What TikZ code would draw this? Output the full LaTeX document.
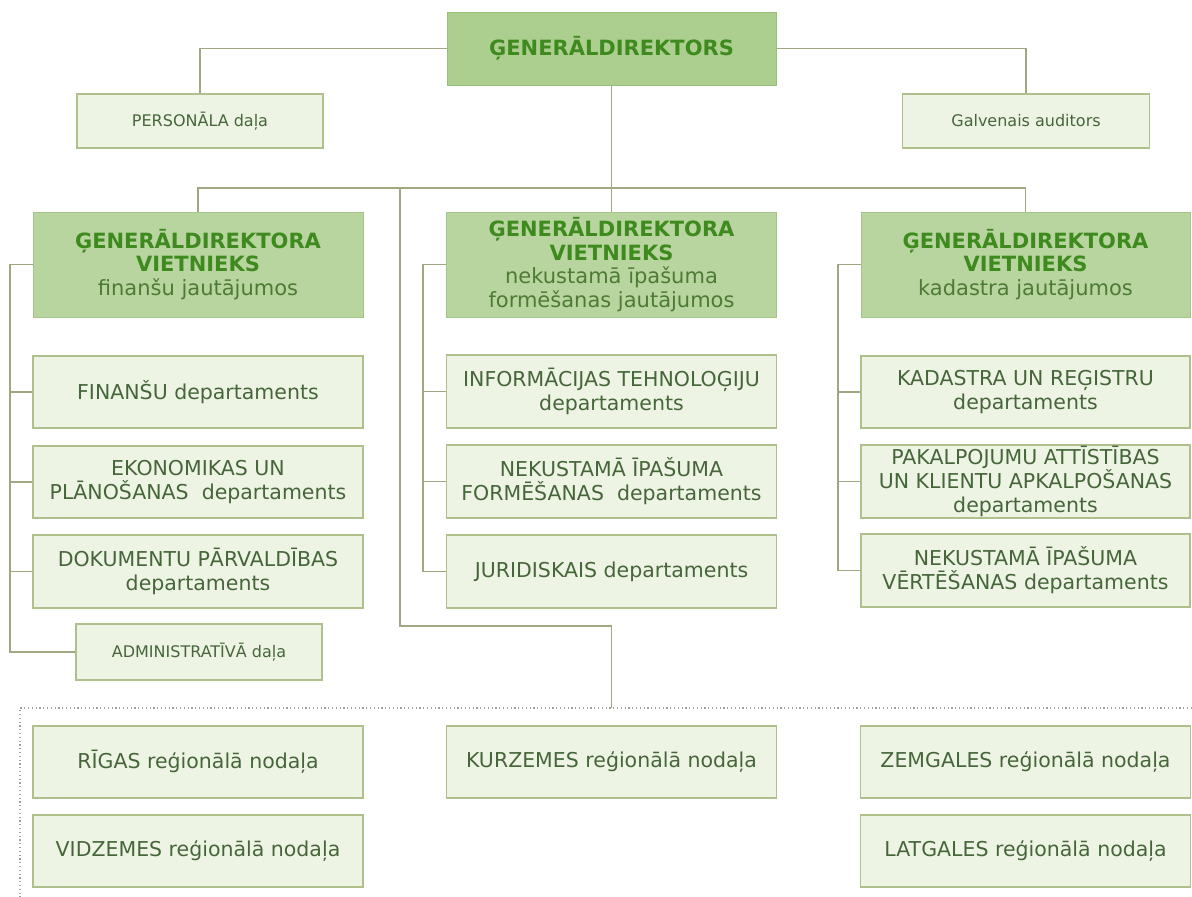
\documentclass[tikz,border=0pt]{standalone}
\usepackage{fontspec}
\setmainfont{DejaVu Sans}
\usepackage{tikz}
\usetikzlibrary{calc}
\definecolor{ChartLine}{HTML}{A0A783}
\definecolor{ChartFence}{HTML}{9AA39C}
\definecolor{HeadFill}{HTML}{ACCF8F}
\definecolor{HeadEdge}{HTML}{98BE78}
\definecolor{DeputyFill}{HTML}{B8D59F}
\definecolor{DeputyEdge}{HTML}{A4C58A}
\definecolor{UnitFill}{HTML}{EEF4E4}
\definecolor{UnitEdge}{HTML}{B0C08C}
\definecolor{TitleGreen}{HTML}{3E8A1E}
\definecolor{SubGreen}{HTML}{4E7A34}
\definecolor{UnitText}{HTML}{46663A}
\newcommand{\vptitle}{\textcolor{TitleGreen}{\textbf{ĢENERĀLDIREKTORA}}\\\textcolor{TitleGreen}{\textbf{VIETNIEKS}}}

\tikzset{
  link/.style={draw=ChartLine, line width=1.6pt},
  fence/.style={draw=ChartFence, line width=1.3pt, dash pattern=on 1.2pt off 2.6pt},
  boxsize/.style 2 args={minimum width=#1, minimum height=#2},
  headbox/.style={draw=HeadEdge, fill=HeadFill, line width=1pt, inner sep=0pt,
    text=TitleGreen, font=\bfseries\fontsize{21}{24}\selectfont},
  deputybox/.style={draw=DeputyEdge, fill=DeputyFill, line width=1pt, inner sep=0pt,
    align=center, text=SubGreen, font=\fontsize{21}{23.5}\selectfont},
  unitbox/.style={draw=UnitEdge, fill=UnitFill, line width=1.6pt, inner sep=0pt,
    align=center, text=UnitText, font=\fontsize{20.5}{24}\selectfont},
  smallunit/.style={unitbox, font=\fontsize{16}{19}\selectfont},
}

\begin{document}
\begin{tikzpicture}[x=1pt, y=-1pt]
  \useasboundingbox (0,0) rectangle (1192,897);

  \node[headbox, boxsize={329pt}{73pt}] (chief) at (611.5,48.5) {ĢENERĀLDIREKTORS};
  \node[smallunit, boxsize={246pt}{54pt}] (personnel) at (200,121) {PERSONĀLA daļa};
  \node[smallunit, boxsize={247pt}{54pt}] (auditor) at (1026,121) {Galvenais auditors};

  \node[deputybox, boxsize={330pt}{105pt}] (finance) at (198,264.5) {\vptitle\\finanšu jautājumos};
  \node[deputybox, boxsize={330pt}{105pt}] (property) at (611.5,264.5) {\vptitle\\nekustamā īpašuma\\formēšanas jautājumos};
  \node[deputybox, boxsize={329pt}{105pt}] (cadastre) at (1025.5,264.5) {\vptitle\\kadastra jautājumos};

  \node[unitbox, boxsize={330pt}{72pt}] (finunit) at (198,392) {FINANŠU departaments};
  \node[unitbox, boxsize={330pt}{72pt}] (ecounit) at (198,482) {EKONOMIKAS UN\\PLĀNOŠANAS\ \ departaments};
  \node[unitbox, boxsize={330pt}{73pt}] (docunit) at (198,571.5) {DOKUMENTU PĀRVALDĪBAS\\departaments};
  \node[smallunit, boxsize={246pt}{56pt}] (admunit) at (199,652) {ADMINISTRATĪVĀ daļa};

  \node[unitbox, boxsize={330pt}{73pt}] (itunit) at (611.5,391.5) {INFORMĀCIJAS TEHNOLOĢIJU\\departaments};
  \node[unitbox, boxsize={330pt}{73pt}] (formunit) at (611.5,481.5) {NEKUSTAMĀ ĪPAŠUMA\\FORMĒŠANAS\ \ departaments};
  \node[unitbox, boxsize={330pt}{73pt}] (lawunit) at (611.5,571.5) {JURIDISKAIS departaments};

  \node[unitbox, boxsize={329pt}{72pt}] (regunit) at (1025.5,392) {KADASTRA UN REĢISTRU\\departaments};
  \node[unitbox, boxsize={329pt}{73pt}] (svcunit) at (1025.5,481.5) {PAKALPOJUMU ATTĪSTĪBAS\\UN KLIENTU APKALPOŠANAS\\departaments};
  \node[unitbox, boxsize={329pt}{73pt}] (valunit) at (1025.5,570.5) {NEKUSTAMĀ ĪPAŠUMA\\VĒRTĒŠANAS departaments};

  \foreach \name/\x/\y/\region in {riga/198/762/RĪGAS, vidzeme/198/851/VIDZEMES,
      kurzeme/611.5/762/KURZEMES, zemgale/1025.5/762/ZEMGALES, latgale/1025.5/851/LATGALES}
    \node[unitbox, boxsize={330pt}{72pt}] (\name) at (\x,\y) {\region\ reģionālā nodaļa};

  \coordinate (bus) at (0,188);
  \coordinate (regtap) at (400,188);
  \coordinate (regbend) at (400,626);
  \coordinate (fenceline) at (0,708);
  \coordinate (fencene) at (1192,708);
  \coordinate (fencenw) at (20,708);
  \coordinate (fencesw) at (20,897);
  \coordinate (lbus) at (10,0);
  \coordinate (mbus) at (423,0);
  \coordinate (rbus) at (838,0);

  \draw[link] (chief.west) -| (personnel.north);
  \draw[link] (chief.east) -| (auditor.north);
  \draw[link] (chief.south) -- (property.north);
  \draw[link] (finance.north) |- (bus -| cadastre.north) -- (cadastre.north);
  \draw[link] (regtap) -- (regbend) -| (kurzeme.north |- fenceline);

  \draw[link] (finance.west) -| (lbus |- admunit.west) -- (admunit.west);
  \foreach \n in {finunit,ecounit,docunit}
    \draw[link] (\n.west) -- (lbus |- \n.west);
  \draw[link] (property.west) -| (mbus |- lawunit.west) -- (lawunit.west);
  \foreach \n in {itunit,formunit}
    \draw[link] (\n.west) -- (mbus |- \n.west);
  \draw[link] (cadastre.west) -| (rbus |- valunit.west) -- (valunit.west);
  \foreach \n in {regunit,svcunit}
    \draw[link] (\n.west) -- (rbus |- \n.west);

  \draw[fence] (fencene) -- (fencenw) -- (fencesw);
\end{tikzpicture}
\end{document}
